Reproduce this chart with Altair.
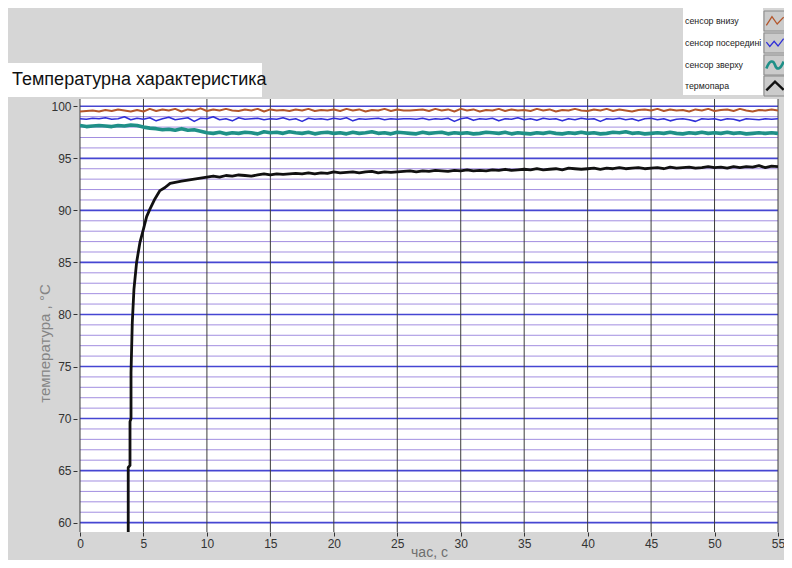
import altair as alt
import pandas as pd
import numpy as np

# ---------------- data ----------------
series_names = ["сенсор внизу", "сенсор посередині", "сенсор зверху", "термопара"]
series_colors = ["#b3552b", "#2f2fd8", "#1f9088", "#111111"]
series_widths = [2.0, 1.6, 3.6, 2.8]

t_grid = list(np.arange(0, 55.01, 0.5))  # sampling instants, s

red = [99.5, 99.55, 99.6, 99.5, 99.65, 99.55, 99.7, 99.6, 99.5, 99.65,
       99.5, 99.75, 99.55, 99.7, 99.6, 99.75, 99.5, 99.7, 99.6, 99.8,
       99.55, 99.7, 99.6, 99.75, 99.6, 99.55, 99.7, 99.6, 99.75, 99.5,
       99.7, 99.6, 99.65, 99.55, 99.7, 99.6, 99.75, 99.55, 99.65, 99.6,
       99.7, 99.55, 99.75, 99.6, 99.7, 99.5, 99.65, 99.6, 99.75, 99.55,
       99.7, 99.6, 99.6, 99.65, 99.7, 99.55, 99.75, 99.6, 99.7, 99.5,
       99.75, 99.6, 99.7, 99.5, 99.65, 99.6, 99.75, 99.55, 99.7, 99.6,
       99.65, 99.55, 99.75, 99.6, 99.7, 99.5, 99.65, 99.6, 99.75, 99.6,
       99.55, 99.7, 99.6, 99.75, 99.55, 99.7, 99.6, 99.5, 99.65, 99.7,
       99.6, 99.75, 99.55, 99.7, 99.6, 99.65, 99.5, 99.7, 99.6, 99.75,
       99.55, 99.65, 99.7, 99.55, 99.75, 99.6, 99.5, 99.65, 99.6, 99.7,
       99.6]

blue = [98.8, 98.75, 98.85, 98.8, 98.9, 98.75, 98.8, 99.0, 98.7, 98.85,
        98.75, 98.9, 98.6, 98.8, 98.95, 98.7, 98.8, 98.9, 98.55, 98.85,
        98.8, 99.0, 98.7, 98.8, 98.6, 98.9, 98.75, 98.8, 98.85, 98.7,
        98.8, 98.75, 98.9, 98.7, 98.8, 98.55, 98.85, 98.75, 98.8, 98.7,
        98.85, 98.75, 98.9, 98.6, 98.8, 98.75, 98.8, 98.85, 98.7, 98.8,
        98.75, 98.8, 98.8, 98.75, 98.85, 98.7, 98.8, 98.75, 98.85, 98.55,
        98.8, 98.9, 98.65, 98.8, 98.75, 98.85, 98.6, 98.8, 98.75, 98.9,
        98.7, 98.8, 98.65, 98.85, 98.75, 98.8, 98.6, 98.8, 98.7, 98.85,
        98.75, 98.8, 98.55, 98.8, 98.75, 98.85, 98.7, 98.8, 98.6, 98.8,
        98.85, 98.7, 98.8, 98.6, 98.75, 98.8, 98.7, 98.55, 98.8, 98.75,
        98.8, 98.65, 98.8, 98.75, 98.6, 98.8, 98.75, 98.7, 98.8, 98.75,
        98.8]

teal = [98.15, 98.05, 98.1, 98.15, 98.1, 98.05, 98.15, 98.1, 98.2, 98.15,
        98.0, 97.9, 97.85, 97.75, 97.8, 97.7, 97.85, 97.7, 97.75, 97.6,
        97.45, 97.4, 97.5, 97.35, 97.45, 97.4, 97.5, 97.45, 97.35, 97.55,
        97.45, 97.5, 97.4, 97.55, 97.45, 97.4, 97.5, 97.35, 97.45, 97.5,
        97.4, 97.45, 97.35, 97.5, 97.4, 97.45, 97.55, 97.4, 97.45, 97.35,
        97.5, 97.45, 97.4, 97.35, 97.5, 97.4, 97.45, 97.5, 97.35, 97.45,
        97.4, 97.45, 97.35, 97.4, 97.5, 97.45, 97.4, 97.5, 97.35, 97.45,
        97.4, 97.35, 97.45, 97.4, 97.5, 97.4, 97.35, 97.45, 97.4, 97.5,
        97.4, 97.45, 97.35, 97.4, 97.5, 97.45, 97.55, 97.4, 97.45, 97.35,
        97.4, 97.45, 97.4, 97.5, 97.4, 97.35, 97.45, 97.4, 97.5, 97.4,
        97.45, 97.4, 97.5, 97.4, 97.45, 97.35, 97.4, 97.45, 97.4, 97.45,
        97.4]

# thermocouple: fast rise, then 0.5 s samples from 7.5 s
tc_t_rise = [3.8, 3.8, 3.94, 3.94, 4.02, 4.02, 4.12, 4.25, 4.46, 4.72,
             5.0, 5.25, 5.5, 5.9, 6.3, 6.7, 7.1]
tc_v_rise = [59.1, 65.3, 65.5, 69.7, 70.0, 74.4, 79.2, 82.4, 85.0, 86.9,
             88.2, 89.4, 90.1, 91.1, 91.9, 92.2, 92.6]
tc_v_tail = [92.7, 92.8, 92.9, 93.0, 93.1,
             93.2, 93.3, 93.2, 93.35, 93.3, 93.4, 93.35, 93.3, 93.4, 93.5,
             93.4, 93.5, 93.45, 93.5, 93.55, 93.5, 93.6, 93.5, 93.6, 93.55,
             93.7, 93.6, 93.65, 93.7, 93.6, 93.7, 93.75, 93.6, 93.7, 93.65,
             93.7, 93.75, 93.8, 93.7, 93.8, 93.75, 93.85, 93.8, 93.75, 93.85,
             93.8, 93.9, 93.8, 93.85, 93.8, 93.9, 93.85, 93.95, 93.85, 93.9,
             93.95, 93.9, 94.0, 93.9, 93.95, 94.0, 93.9, 94.05, 94.0, 93.95,
             94.0, 94.05, 93.95, 94.05, 94.0, 94.1, 94.0, 94.05, 94.1, 94.0,
             94.05, 94.1, 94.0, 94.15, 94.05, 94.1, 94.15, 94.05, 94.1, 94.2,
             94.1, 94.15, 94.05, 94.2, 94.1, 94.2, 94.15, 94.3, 94.1, 94.25,
             94.2]

x_ticks = [0, 5, 10, 15, 20, 25, 30, 35, 40, 45, 50, 55]
y_major = [60, 65, 70, 75, 80, 85, 90, 95, 100]
y_minor = [61, 62, 63, 64, 66, 67, 68, 69, 71, 72, 73, 74, 76, 77, 78, 79,
           81, 82, 83, 84, 86, 87, 88, 89, 91, 92, 93, 94, 96, 97, 98, 99]

title_text = "Температурна характеристика"
x_title = "час, с"
y_title = "температура , °C"

# ---------------- tables ----------------
rows = []
for name, vals in zip(series_names[:3], [red, blue, teal]):
    for i, (tt, v) in enumerate(zip(t_grid, vals)):
        rows.append({"t": tt, "v": v, "s": name, "i": i})
tc_t = tc_t_rise + t_grid[15:]
tc_v = tc_v_rise + tc_v_tail
for i, (tt, v) in enumerate(zip(tc_t, tc_v)):
    rows.append({"t": tt, "v": v, "s": series_names[3], "i": i})
df = pd.DataFrame(rows)

W, H = 698, 433
xscale = alt.Scale(domain=[0, 55], nice=False, zero=False)
yscale = alt.Scale(domain=[59.1, 100.7], nice=False, zero=False)

x_axis = alt.Axis(values=x_ticks, title=x_title, grid=False, domain=False,
                  tickColor="#333", tickSize=4, labelPadding=2,
                  labelFontSize=12, labelColor="#333",
                  labelFont="Liberation Sans", titleFont="Liberation Sans",
                  titleFontSize=14, titleFontWeight="normal",
                  titleColor="#6e6e6e", titleBaseline="bottom", titleY=27,
                  labelOverlap=False, labelFlush=False)
y_axis = alt.Axis(values=y_major, title=y_title, grid=False, domain=False,
                  tickColor="#333", tickSize=4, offset=3, labelPadding=2,
                  labelFontSize=12, labelColor="#333",
                  labelFont="Liberation Sans", titleFont="Liberation Sans",
                  titleFontSize=15, titleFontWeight="normal",
                  titleColor="#858585", titleX=-33, titleY=244,
                  titleBaseline="middle", titleAngle=270)

minor = alt.Chart(pd.DataFrame({"v": y_minor})).mark_rule(
    color="#9d88de", strokeWidth=1, opacity=0.95
).encode(y=alt.Y("v:Q", scale=yscale, axis=y_axis))

major = alt.Chart(pd.DataFrame({"v": y_major})).mark_rule(
    color="#4646d2", strokeWidth=1.6
).encode(y=alt.Y("v:Q", scale=yscale, axis=y_axis))

vgrid = alt.Chart(pd.DataFrame({"t": x_ticks})).mark_rule(
    color="#3c3c3c", strokeWidth=1
).encode(x=alt.X("t:Q", scale=xscale, axis=x_axis))

line_layers = []
for name, col, sw in zip(series_names, series_colors, series_widths):
    line_layers.append(
        alt.Chart(df[df["s"] == name]).mark_line(
            color=col, strokeWidth=sw, clip=True, strokeJoin="round"
        ).encode(
            x=alt.X("t:Q", scale=xscale, axis=x_axis),
            y=alt.Y("v:Q", scale=yscale, axis=y_axis),
            order="i:Q",
        )
    )

one = pd.DataFrame({"a": [0]})

# title box
title_box = alt.Chart(one).mark_rect(color="#ffffff").encode(
    x=alt.value(-72), x2=alt.value(182), y=alt.value(-36), y2=alt.value(-2))
title_txt = alt.Chart(one).mark_text(
    text=title_text, font="Liberation Sans", fontSize=18, color="#111",
    align="left", baseline="middle").encode(x=alt.value(-68), y=alt.value(-19))

# legend
leg_box = alt.Chart(one).mark_rect(color="#ffffff").encode(
    x=alt.value(603), x2=alt.value(683), y=alt.value(-91), y2=alt.value(-4))
leg_layers = [leg_box]
row_y = [-78, -56, -34, -13]
icon_paths = [
    "M-1,0.5L-0.35,-0.5L0.25,0.35L1,-0.45",
    "M-1,-0.1L-0.6,0.4L-0.1,-0.2L0.35,0.35L1,-0.5",
    "M-1,0.4C-0.6,-0.6 -0.2,-0.6 0,0C0.2,0.6 0.6,0.6 1,-0.4",
    "M-1,0.5L0,-0.5L1,0.45",
]
for name, col, yy, path, sw in zip(series_names, series_colors, row_y, icon_paths,
                                   [1.3, 1.3, 2.6, 2.4]):
    leg_layers.append(alt.Chart(one).mark_rect(
        color="#cbcbcb", stroke="#8a8a8a", strokeWidth=1).encode(
        x=alt.value(684), x2=alt.value(706), y=alt.value(yy - 10), y2=alt.value(yy + 10)))
    leg_layers.append(alt.Chart(one).mark_point(
        shape=path, size=300, filled=False, stroke=col, strokeWidth=sw, opacity=1).encode(
        x=alt.value(695), y=alt.value(yy)))
    leg_layers.append(alt.Chart(one).mark_text(
        text=name, font="Liberation Sans", fontSize=8.8, color="#222",
        align="left", baseline="middle").encode(
        x=alt.value(605), y=alt.value(yy)))

chart = alt.layer(
    minor, major, vgrid, *line_layers, title_box, title_txt, *leg_layers
).properties(
    width=W, height=H,
    autosize=alt.AutoSizeParams(type="none"),
    padding={"left": 72, "top": 91, "right": 6, "bottom": 28},
    background="#d6d6d6",
).configure_view(fill="#ffffff", stroke=None)

chart.save("out.html", embed_options={"renderer": "svg", "actions": False})
